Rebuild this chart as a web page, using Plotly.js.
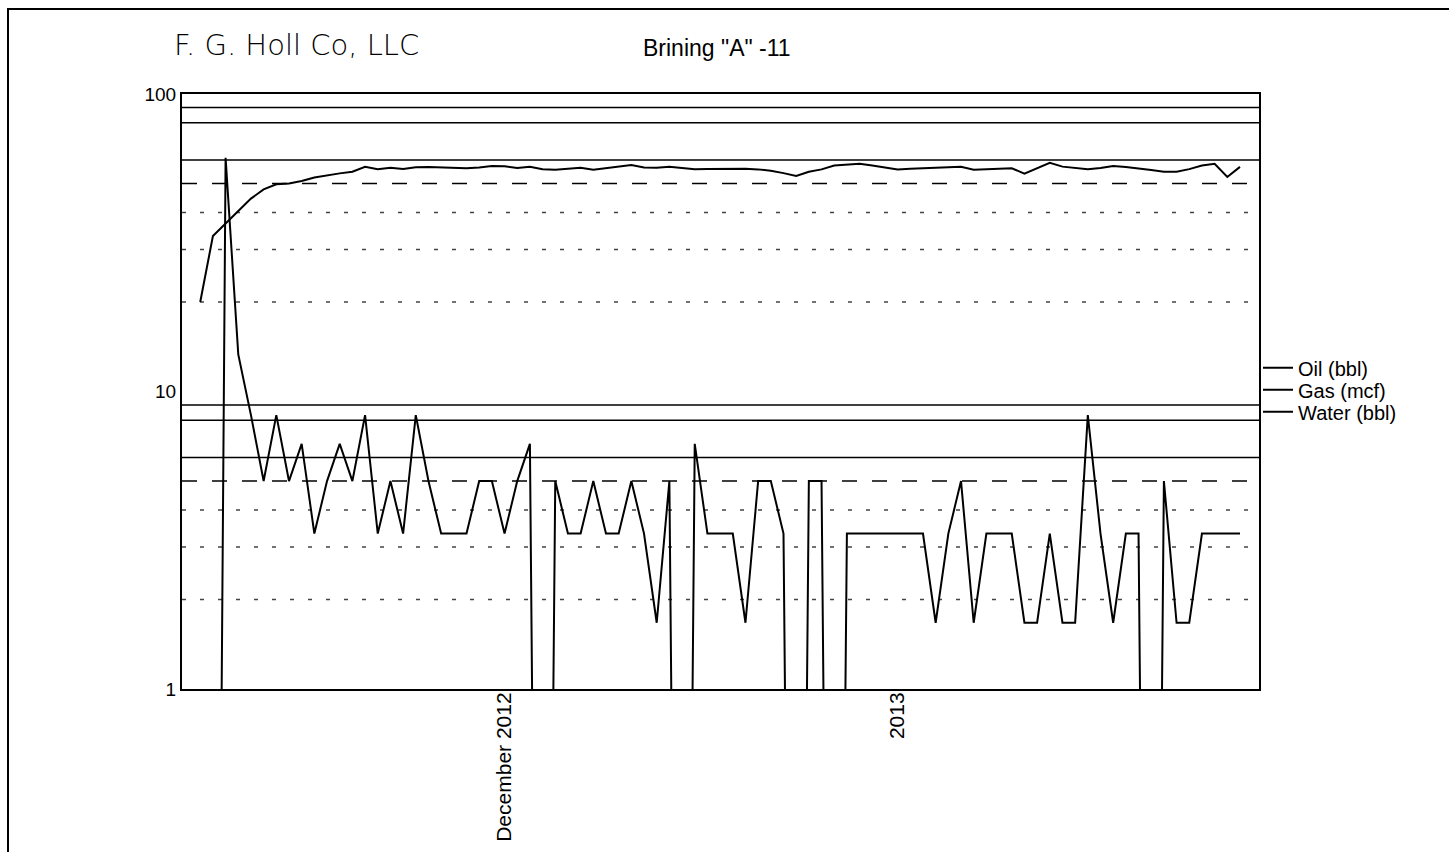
<!DOCTYPE html>
<html>
<head>
<meta charset="utf-8">
<script src="https://cdn.plot.ly/plotly-3.0.1.min.js"></script>
<style>
  html, body { margin: 0; padding: 0; background: #fff; }
  #wrap { position: relative; width: 1449px; height: 852px; overflow: hidden; }
  #chart { position: absolute; left: 0; top: 0; width: 1449px; height: 852px; }
  #frame { position: absolute; left: 7px; top: 8px; width: 1460px; height: 860px;
           border-top: 2px solid #000; border-left: 2px solid #000; pointer-events: none; }
</style>
</head>
<body>
<div id="wrap">
  <div id="chart"></div>
  <div id="frame"></div>
</div>
<script>
// ---- Data (daily readings) ----
const dates = [
  "2012-11-07","2012-11-08","2012-11-09","2012-11-10","2012-11-11","2012-11-12","2012-11-13","2012-11-14",
  "2012-11-15","2012-11-16","2012-11-17","2012-11-18","2012-11-19","2012-11-20","2012-11-21","2012-11-22",
  "2012-11-23","2012-11-24","2012-11-25","2012-11-26","2012-11-27","2012-11-28","2012-11-29","2012-11-30",
  "2012-12-01","2012-12-02","2012-12-03","2012-12-04","2012-12-05","2012-12-06","2012-12-07","2012-12-08",
  "2012-12-09","2012-12-10","2012-12-11","2012-12-12","2012-12-13","2012-12-14","2012-12-15","2012-12-16",
  "2012-12-17","2012-12-18","2012-12-19","2012-12-20","2012-12-21","2012-12-22","2012-12-23","2012-12-24",
  "2012-12-25","2012-12-26","2012-12-27","2012-12-28","2012-12-29","2012-12-30","2012-12-31",
  "2013-01-01","2013-01-02","2013-01-03","2013-01-04","2013-01-05","2013-01-06","2013-01-07","2013-01-08",
  "2013-01-09","2013-01-10","2013-01-11","2013-01-12","2013-01-13","2013-01-14","2013-01-15","2013-01-16",
  "2013-01-17","2013-01-18","2013-01-19","2013-01-20","2013-01-21","2013-01-22","2013-01-23","2013-01-24",
  "2013-01-25","2013-01-26","2013-01-27","2013-01-28"
];

const oilBbl = [
  0, 0, 61, 13.33, 8.33, 5, 8.33, 5, 6.67, 3.33,
  5, 6.67, 5, 8.33, 3.33, 5, 3.33, 8.33, 5, 3.33,
  3.33, 3.33, 5, 5, 3.33, 5, 6.67, 0, 5, 3.33,
  3.33, 5, 3.33, 3.33, 5, 3.33, 1.67, 5, 0, 6.67,
  3.33, 3.33, 3.33, 1.67, 5, 5, 3.33, 0, 5, 5,
  0, 3.33, 3.33, 3.33, 3.33, 3.33, 3.33, 3.33, 1.67, 3.33,
  5, 1.67, 3.33, 3.33, 3.33, 1.67, 1.67, 3.33, 1.67, 1.67,
  8.33, 3.33, 1.67, 3.33, 3.33, 0, 5, 1.67, 1.67, 3.33,
  3.33, 3.33, 3.33
];

const gasMcf = [
  20, 33.3, 36.7, 40.5, 44.5, 47.8, 49.7, 50, 51, 52.4,
  53.3, 54.1, 54.8, 56.9, 55.9, 56.5, 56, 56.7, 56.8, 56.6,
  56.4, 56.3, 56.6, 57.3, 57.2, 56.4, 56.9, 55.9, 55.6, 56,
  56.5, 55.6, 56.3, 57.2, 57.7, 56.6, 56.5, 56.9, 56.3, 55.9,
  56, 56.1, 56, 56.1, 55.8, 55.2, 54.2, 53, 54.8, 55.8,
  57.5, 57.9, 58.3, 57.5, 56.7, 55.8, 56.1, 56.3, 56.4, 56.7,
  56.9, 55.6, 55.8, 56.1, 56.3, 54, 56.3, 58.7, 57, 56.3,
  55.9, 56.4, 57.3, 56.8, 56.3, 55.5, 54.8, 54.8, 55.9, 57.5,
  58.3, 52.6, 56.9
];

const waterBbl = [
  0, 0, 0, 0, 0, 0, 0, 0, 0, 0,
  0, 0, 0, 0, 0, 0, 0, 0, 0, 0,
  0, 0, 0, 0, 0, 0, 0, 0, 0, 0,
  0, 0, 0, 0, 0, 0, 0, 0, 0, 0,
  0, 0, 0, 0, 0, 0, 0, 0, 0, 0,
  0, 0, 0, 0, 0, 0, 0, 0, 0, 0,
  0, 0, 0, 0, 0, 0, 0, 0, 0, 0,
  0, 0, 0, 0, 0, 0, 0, 0, 0, 0,
  0, 0, 0
];

const seriesNames = ["Oil (bbl)", "Gas (mcf)", "Water (bbl)"];
const xTickVals = ["2012-12-01", "2013-01-01"];
const xTickText = ["December 2012", "2013"];
const yTickVals = [1, 10, 100];
const yTickText = ["1", "10", "100"];

// gridline values as drawn on the original chart
const gridSolid = [6, 8, 9, 60, 80, 90];
const gridDashed = [5, 50];
const gridDotted = [2, 3, 4, 20, 30, 40];

// zero production drawn as a drop below the log axis (as the original plotting software does)
const LOG_FLOOR = 1e-4;
const forLogAxis = arr => arr.map(v => (v > 0 ? v : LOG_FLOOR));

const FONT = "Liberation Sans, Arial, sans-serif";
const legendIds = ["legend", "legend2", "legend3"];

const traces = [oilBbl, gasMcf, waterBbl].map((vals, i) => ({
  name: seriesNames[i], x: dates, y: forLogAxis(vals), mode: "lines",
  line: { color: "#000", width: 2 }, legend: legendIds[i]
}));

function gridShapes(vals, dash, color, width) {
  return vals.map(v => ({
    type: "line", xref: "paper", x0: 0, x1: 1, yref: "y", y0: v, y1: v,
    line: { color: color, width: width, dash: dash }, layer: "below"
  }));
}

// legend rows (pixel centres in the page) turned into paper coordinates
const PLOT_TOP = 94, PLOT_BOTTOM = 689.5, PLOT_LEFT = 182, PLOT_W = 1077;
const legendRowY = [368, 390, 412];
function legendBox(yPix) {
  return {
    x: (1258 - PLOT_LEFT) / PLOT_W, xanchor: "left",
    y: (PLOT_BOTTOM - yPix) / (PLOT_BOTTOM - PLOT_TOP), yanchor: "middle",
    font: { family: FONT, size: 20, color: "#000" },
    bgcolor: "rgba(0,0,0,0)", borderwidth: 0
  };
}

const layout = {
  width: 1449, height: 852,
  margin: { l: 182, r: 190, t: 94, b: 163, pad: 0 },
  paper_bgcolor: "rgba(0,0,0,0)",
  plot_bgcolor: "#fff",
  font: { family: FONT, color: "#000" },
  title: {
    text: 'Brining "A" -11',
    font: { family: FONT, size: 23, color: "#000" },
    x: 643 / 1449, xref: "container", xanchor: "left",
    y: 1 - 48 / 852, yref: "container", yanchor: "middle"
  },
  xaxis: {
    type: "date",
    range: ["2012-11-05 13:30", "2013-01-29 12:00"],
    tickmode: "array", tickvals: xTickVals, ticktext: xTickText,
    tickangle: -90, tickfont: { family: FONT, size: 21, color: "#000" },
    ticklabelstandoff: -7,
    ticks: "", showgrid: false, zeroline: false,
    showline: true, mirror: true, linecolor: "#000", linewidth: 2
  },
  yaxis: {
    type: "log", range: [0, 2],
    tickmode: "array", tickvals: yTickVals, ticktext: yTickText,
    tickfont: { family: FONT, size: 19, color: "#000" },
    ticks: "", showgrid: false, zeroline: false,
    showline: true, mirror: true, linecolor: "#000", linewidth: 2
  },
  showlegend: true,
  legend: legendBox(legendRowY[0]),
  legend2: legendBox(legendRowY[1]),
  legend3: legendBox(legendRowY[2]),
  shapes: [].concat(
    gridShapes(gridSolid, "solid", "#000", 1.5),
    gridShapes(gridDashed, "longdash", "#000", 1.5),
    gridShapes(gridDotted, "4px,14px", "#444", 1.5)
  ),
  annotations: [{
    text: "F. G. Holl Co, LLC",
    xref: "paper", yref: "paper", x: (172 - PLOT_LEFT) / PLOT_W, y: (PLOT_BOTTOM - 45) / (PLOT_BOTTOM - PLOT_TOP),
    xanchor: "left", yanchor: "middle", showarrow: false,
    font: { family: "DejaVu Sans ExtraLight, DejaVu Sans, sans-serif", size: 29, color: "#000", weight: 200 }
  }]
};

Plotly.newPlot("chart", traces, layout, { displayModeBar: false, staticPlot: true });
</script>
</body>
</html>
